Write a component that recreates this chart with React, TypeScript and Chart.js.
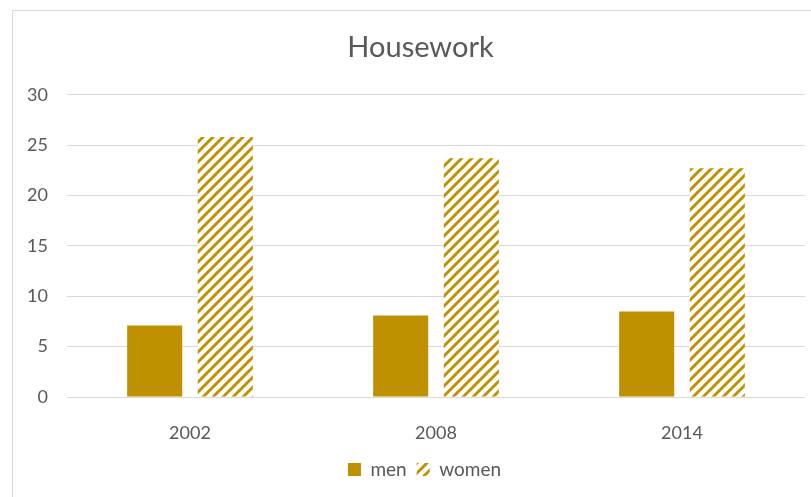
import React, { useEffect, useRef } from "react";
import { Chart, registerables } from "chart.js";

Chart.register(...registerables);

const chartTitle = "Housework";
const categories = ["2002", "2008", "2014"];
const seriesNames = ["men", "women"];
const menValues = [7.1, 8.1, 8.5];
const womenValues = [25.8, 23.7, 22.7];
const yMin = 0;
const yMax = 30;
const yStep = 5;

const GOLD = "#BF9000";
const TEXT = "#595959";
const GRID = "#D9D9D9";
const FONT = "Lato, 'Open Sans', sans-serif";

function makeHatch(color: string): CanvasPattern | string {
  const s = 10;
  const c = document.createElement("canvas");
  c.width = s;
  c.height = s;
  const ctx = c.getContext("2d");
  if (!ctx) return color;
  ctx.fillStyle = "#ffffff";
  ctx.fillRect(0, 0, s, s);
  ctx.strokeStyle = color;
  ctx.lineWidth = 3;
  ctx.lineCap = "square";
  ctx.beginPath();
  ctx.moveTo(0, s);
  ctx.lineTo(s, 0);
  ctx.moveTo(-s / 2, s / 2);
  ctx.lineTo(s / 2, -s / 2);
  ctx.moveTo(s / 2, s * 1.5);
  ctx.lineTo(s * 1.5, s / 2);
  ctx.stroke();
  const p = ctx.createPattern(c, "repeat");
  return p || color;
}

const blockShift = {
  id: "blockShift",
  afterLayout(chart: any) {
    const l = chart.legend;
    if (l) {
      l.left += 16;
      l.right += 16;
    }
    const t = chart.titleBlock;
    if (t) {
      t.left += 12;
      t.right += 12;
    }
  },
};

export default function App() {
  const ref = useRef<HTMLCanvasElement | null>(null);

  useEffect(() => {
    document.body.style.overflow = "hidden";
    const canvas = ref.current;
    if (!canvas) return;
    const hatch = makeHatch(GOLD);
    const chart = new Chart(canvas, {
      type: "bar",
      data: {
        labels: categories,
        datasets: [
          {
            label: seriesNames[0],
            data: menValues,
            backgroundColor: GOLD,
            borderWidth: 0,
            categoryPercentage: 0.574,
            barPercentage: 0.78,
          },
          {
            label: seriesNames[1],
            data: womenValues,
            backgroundColor: hatch as any,
            borderWidth: 0,
            categoryPercentage: 0.574,
            barPercentage: 0.78,
          },
        ],
      },
      plugins: [blockShift],
      options: {
        responsive: false,
        animation: false,
        layout: { padding: { left: 12, right: 6, top: 0, bottom: 8 } },
        plugins: {
          title: {
            display: true,
            text: chartTitle,
            color: TEXT,
            font: { family: FONT, size: 29, weight: "normal" as any },
            padding: { top: 30, bottom: 30 },
          },
          legend: {
            display: true,
            position: "bottom",
            labels: {
              color: TEXT,
              font: { family: FONT, size: 19 },
              boxWidth: 13,
              boxHeight: 13,
              padding: 10,
            },
          },
          tooltip: { enabled: false },
        },
        scales: {
          x: {
            grid: { display: false },
            border: { display: false },
            ticks: { color: TEXT, font: { family: FONT, size: 18 }, padding: 17 },
            afterFit: (scale: any) => {
              scale.height = 53;
            },
          },
          y: {
            min: yMin,
            max: yMax,
            grid: { color: GRID, lineWidth: 1, drawTicks: false },
            border: { display: false },
            ticks: {
              stepSize: yStep,
              color: TEXT,
              font: { family: FONT, size: 18 },
              padding: 19,
            },
            afterFit: (scale: any) => {
              scale.width = 55;
            },
          },
        },
      },
    });
    return () => chart.destroy();
  }, []);

  return (
    <div style={{ position: "fixed", left: 0, top: 0, width: 811, height: 497, background: "#fff" }}>
      <div
        style={{
          position: "absolute",
          left: 12,
          top: 10,
          width: 811,
          height: 497,
          borderTop: `1px solid ${GRID}`,
          borderLeft: `1px solid ${GRID}`,
        }}
      />
      <canvas
        ref={ref}
        width={811}
        height={497}
        style={{ position: "absolute", left: 0, top: 0, width: 811, height: 497 }}
      />
    </div>
  );
}
